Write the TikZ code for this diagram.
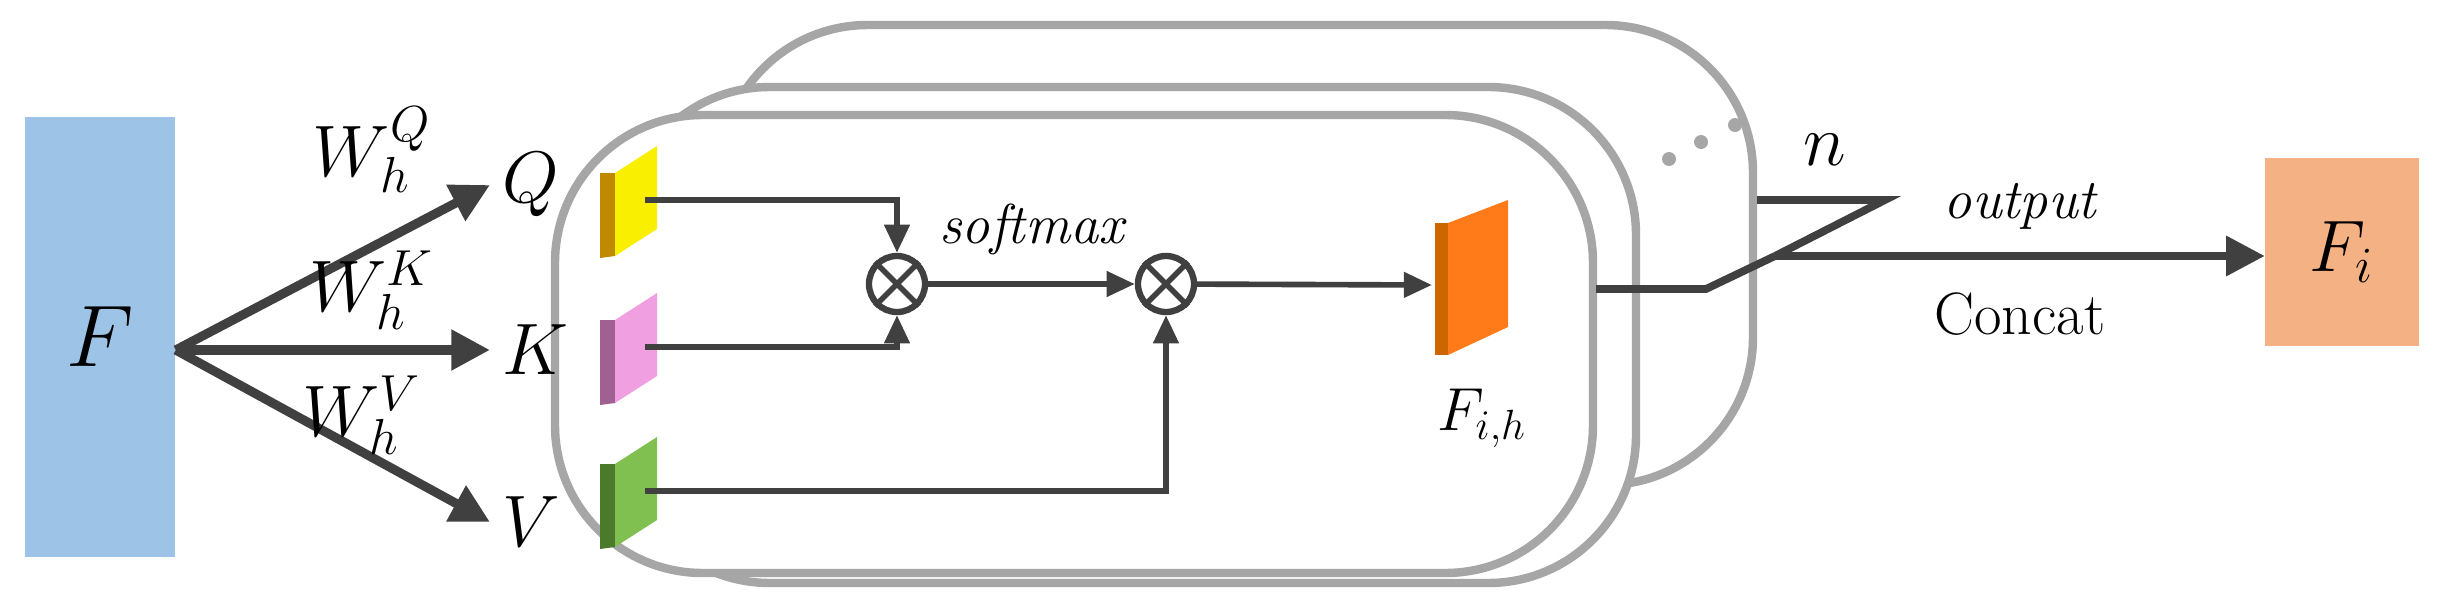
\documentclass[tikz,border=0pt]{standalone}
\usepackage{tikz}
\usetikzlibrary{positioning, arrows.meta}
\definecolor{ink}{HTML}{404040}
\definecolor{frame}{HTML}{A6A6A6}
\definecolor{fblue}{HTML}{9DC3E6}
\definecolor{fpeach}{HTML}{F4B183}
\definecolor{qface}{HTML}{F8F000}
\definecolor{qside}{HTML}{C08A00}
\definecolor{kface}{HTML}{F0A0E0}
\definecolor{kside}{HTML}{A06090}
\definecolor{vface}{HTML}{80C050}
\definecolor{vside}{HTML}{4A7A2A}
\tikzset{
  arr/.style={draw=ink, line width=2.6pt, -{Triangle[length=11pt,width=11pt]}},
  thin arr/.style={draw=ink, line width=1.6pt, -{Triangle[length=8pt,width=7pt]}},
  head/.style={rounded corners=42, draw=frame, line width=2.4pt, fill=white},
  mul/.style={circle, draw=ink, line width=1.8pt, minimum size=0.56cm, inner sep=0pt},
  lab/.style={font=\fontsize{20}{22}\selectfont},
}
\begin{document}
\begin{tikzpicture}[x=0.01cm, y=-0.01cm]
    \useasboundingbox (0,0) rectangle (2447,609);

    % input and output features
    \node[fill=fblue, minimum width=1.5cm, minimum height=4.39cm,
      font=\fontsize{26}{28}\selectfont] (F) at (100,337) {$F$};
    \node[fill=fpeach, minimum width=1.53cm, minimum height=1.87cm,
      font=\fontsize{20}{22}\selectfont] (Fi) at (2342,252) {$F_i$};

    % stacked heads
    \draw[head] (720,25) rectangle (1753,485);
    \draw[head] (622,87) rectangle (1636,583);
    \draw[head] (555,115) rectangle (1593,573);
    \foreach \p in {(1669,159),(1701,142),(1735,125)}
      \fill[frame] \p circle (7);

    % Q K V
    \node[lab, anchor=west] (q) at (490,185) {$Q$};
    \node[lab, anchor=west] (k) at (490,350) {$K$};
    \node[lab, anchor=west] (v) at (490,522) {$V$};
    \coordinate (fo) at (F.east |- k.west);
    \draw[arr] (fo) -- (q.west);
    \draw[arr] (fo) -- (k.west);
    \draw[arr] (fo) -- (v.west);
    \node[lab] (wq) at (372,150) {$W_h^Q$};
    \node[lab] (wk) at (372,290) {$W_h^K$};
    \node[lab] (wv) at (362,415) {$W_h^V$};

    % feature slabs
    \foreach \y/\c/\d/\n in {0/qface/qside/qs, 147/kface/kside/ks, 291/vface/vside/vs}{
      \fill[\d] (600,173+\y) -- (615,173+\y) -- (615,256+\y) -- (600,258+\y) -- cycle;
      \fill[\c] (615,173+\y) -- (657,146+\y) -- (657,229+\y) -- (615,256+\y) -- cycle;
      \coordinate (\n) at (645,200+\y);
    }
    \fill[black!20!orange] (1435,223) -- (1448,223) -- (1448,355) -- (1435,355) -- cycle;
    \fill[orange!85!red!90!white] (1448,223) -- (1508,200) -- (1508,327) -- (1448,355) -- cycle;
    \coordinate (fh) at (1432,285);
    \node[font=\fontsize{17}{19}\selectfont] (fhl) at (1482,418) {$F_{i,h}$};

    % attention
    \node[mul] (m1) at (897,284) {};
    \node[mul] (m2) at (1166,284) {};
    \foreach \m in {m1,m2}{
      \draw[ink, line width=1.6pt] (\m.45) -- (\m.225) (\m.135) -- (\m.315);
    }
    \draw[thin arr] (qs) -| (m1.north);
    \draw[thin arr] (ks) -| (m1.south);
    \draw[thin arr] (vs) -| (m2.south);
    \draw[thin arr] (m1) -- (m2) node[midway, above=4pt, font=\itshape\fontsize{16}{18}\selectfont] {softmax};
    \draw[thin arr] (m2) -- (fh);

    % concat
    \coordinate (c1) at (1596,289);
    \coordinate (c2) at (1706,289);
    \coordinate (c3) at (1775,256);
    \coordinate (z1) at (1757,200);
    \coordinate (z2) at (1885,200);
    \draw[ink, line width=2.2pt] (c1) -- (c2) -- (c3);
    \draw[ink, line width=2.2pt] (z1) -- (z2) -- (c3);
    \draw[arr, line width=2.2pt] (c3) -- (c3 -| Fi.west)
      node[midway, above=3pt, font=\itshape\fontsize{16}{18}\selectfont] {output}
      node[midway, below=6pt, font=\fontsize{17}{19}\selectfont] {Concat};
    \node[lab] (n) at (1825,150) {$n$};
\end{tikzpicture}
\end{document}
